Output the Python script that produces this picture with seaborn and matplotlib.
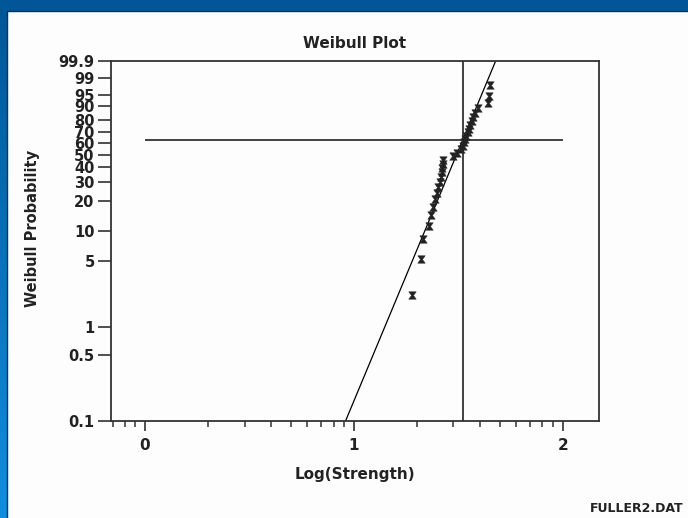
import numpy as np
import pandas as pd
import matplotlib
matplotlib.use("Agg")
import matplotlib.pyplot as plt
from matplotlib.patches import Rectangle
import seaborn as sns

# ---- data ----
log_strength = [1.277, 1.320, 1.333, 1.362, 1.368, 1.377, 1.387, 1.397,
                1.405, 1.413, 1.416, 1.420, 1.424, 1.426, 1.429, 1.477,
                1.493, 1.513, 1.523, 1.528, 1.533, 1.537, 1.545, 1.552,
                1.557, 1.564, 1.571, 1.580, 1.596, 1.644, 1.649, 1.652]
weibull_pct = [2.16, 5.25, 8.33, 11.42, 14.51, 17.59, 20.68, 23.77,
               26.85, 29.94, 33.02, 36.11, 39.20, 42.28, 45.37, 48.46,
               51.54, 54.63, 57.72, 60.80, 63.89, 66.98, 70.06, 73.15,
               76.23, 79.32, 82.41, 85.49, 88.58, 91.67, 94.75, 97.84]
fit_shape_slope = 12.3      # Weibull units per log10 unit
fit_location = 1.522        # log10 of characteristic strength
ref_pct = 63.21             # characteristic-life horizontal reference
ytick_pct = [99.9, 99, 95, 90, 80, 70, 60, 50, 40, 30, 20, 10, 5, 1, 0.5, 0.1]
ytick_labels = ["99.9", "99", "95", "90", "80", "70", "60", "50", "40",
                "30", "20", "10", "5", "1", "0.5", "0.1"]
xtick_vals = [0, 1, 2]
xtick_labels = ["0", "1", "2"]

df = pd.DataFrame({"x": log_strength, "p": weibull_pct})

sns.set_theme(style="ticks")
plt.rcParams["font.family"] = ["DejaVu Sans"]
plt.rcParams["font.weight"] = "bold"

fig = plt.figure(figsize=(6.88, 5.18), dpi=100)

# background gradient frame
bg = fig.add_axes([0, 0, 1, 1], zorder=-10)
top = np.array([0x00, 0x56, 0x96]) / 255.0
bot = np.array([0x12, 0x8e, 0xde]) / 255.0
t = np.linspace(0, 1, 256)[:, None]
grad = (top[None, :] * (1 - t) + bot[None, :] * t)[:, None, :]
grad = np.repeat(grad, 4, axis=1)
bg.imshow(grad, aspect="auto", extent=[0, 1, 0, 1], origin="upper")
bg.add_patch(Rectangle((7 / 688, -0.01), 1.0, 1 - 11 / 518 + 0.01,
                       transform=bg.transAxes, facecolor="#fdfdfd",
                       edgecolor="#1c2a3a", linewidth=1.0))
bg.set_xlim(0, 1)
bg.set_ylim(0, 1)
bg.axis("off")

ax = fig.add_axes([110.7 / 688, 1 - 421 / 518, (599 - 110.7) / 688, (421 - 61) / 518])
ax.set_facecolor("none")


def fwd(p):
    p = np.clip(np.asarray(p, dtype=float), 1e-9, 100 - 1e-9)
    return np.log(-np.log(1 - p / 100.0))


def inv(w):
    return 100.0 * (1 - np.exp(-np.exp(np.asarray(w, dtype=float))))


ax.set_yscale("function", functions=(fwd, inv))
ax.set_ylim(0.1, 99.9)
ax.set_xlim(-0.164, 2.174)

# fitted line
w = np.linspace(fwd(0.1), fwd(99.9), 20)
fit_x = fit_location + w / fit_shape_slope
fit_p = inv(w)
sns.lineplot(x=fit_x, y=fit_p, ax=ax, color="black", linewidth=0.9,
             sort=False, estimator=None)

# reference lines
ax.hlines(ref_pct, xtick_vals[0], xtick_vals[-1], color="#333333", linewidth=1.3)
ax.axvline(fit_location, color="#333333", linewidth=1.3)

# data points
hourglass = [(-1, 1), (1, 1), (0.25, 0), (1, -1), (-1, -1), (-0.25, 0), (-1, 1)]
sns.scatterplot(data=df, x="x", y="p", ax=ax, marker=hourglass, s=28,
                color="#222222", edgecolor="#222222", linewidth=0.4, zorder=5)

ax.set_yticks(ytick_pct)
ax.set_yticklabels(ytick_labels)
ax.yaxis.set_minor_locator(matplotlib.ticker.NullLocator())
ax.set_xticks(xtick_vals)
ax.set_xticklabels(xtick_labels)
minor = np.log10(np.array([0.7, 0.8, 0.9] + list(range(2, 10)) + list(range(20, 100, 10))))
ax.set_xticks(minor, minor=True)

for s in ax.spines.values():
    s.set_visible(True)
    s.set_color("#333333")
    s.set_linewidth(1.3)

ax.tick_params(axis="y", which="major", length=9.5, width=1.2, pad=2,
               labelsize=10.5, colors="#333333", labelcolor="#222222", direction="out")
ax.tick_params(axis="x", which="major", length=7.5, width=1.2, pad=5,
               labelsize=11, colors="#333333", labelcolor="#222222", direction="out")
ax.tick_params(axis="x", which="minor", length=4.5, width=1.1, colors="#333333", direction="out")
for lab in ax.get_xticklabels() + ax.get_yticklabels():
    lab.set_fontweight("bold")

ax.set_xlabel("")
ax.set_ylabel("")

fig.text(355 / 688, 1 - 43 / 518, "Weibull Plot", ha="center", va="center",
         fontsize=11, fontweight="bold", color="#222222")
fig.text(355 / 688, 1 - 475 / 518, "Log(Strength)", ha="center", va="center",
         fontsize=11, fontweight="bold", color="#222222")
fig.text(33 / 688, 1 - 228 / 518, "Weibull Probability", ha="center", va="center",
         rotation=90, fontsize=10.5, fontweight="bold", color="#222222")
fig.text(590 / 688, 1 - 509 / 518, "FULLER2.DAT", ha="left", va="center",
         fontsize=9, fontweight="bold", color="#222222")

fig.savefig("out.png", dpi=100)
